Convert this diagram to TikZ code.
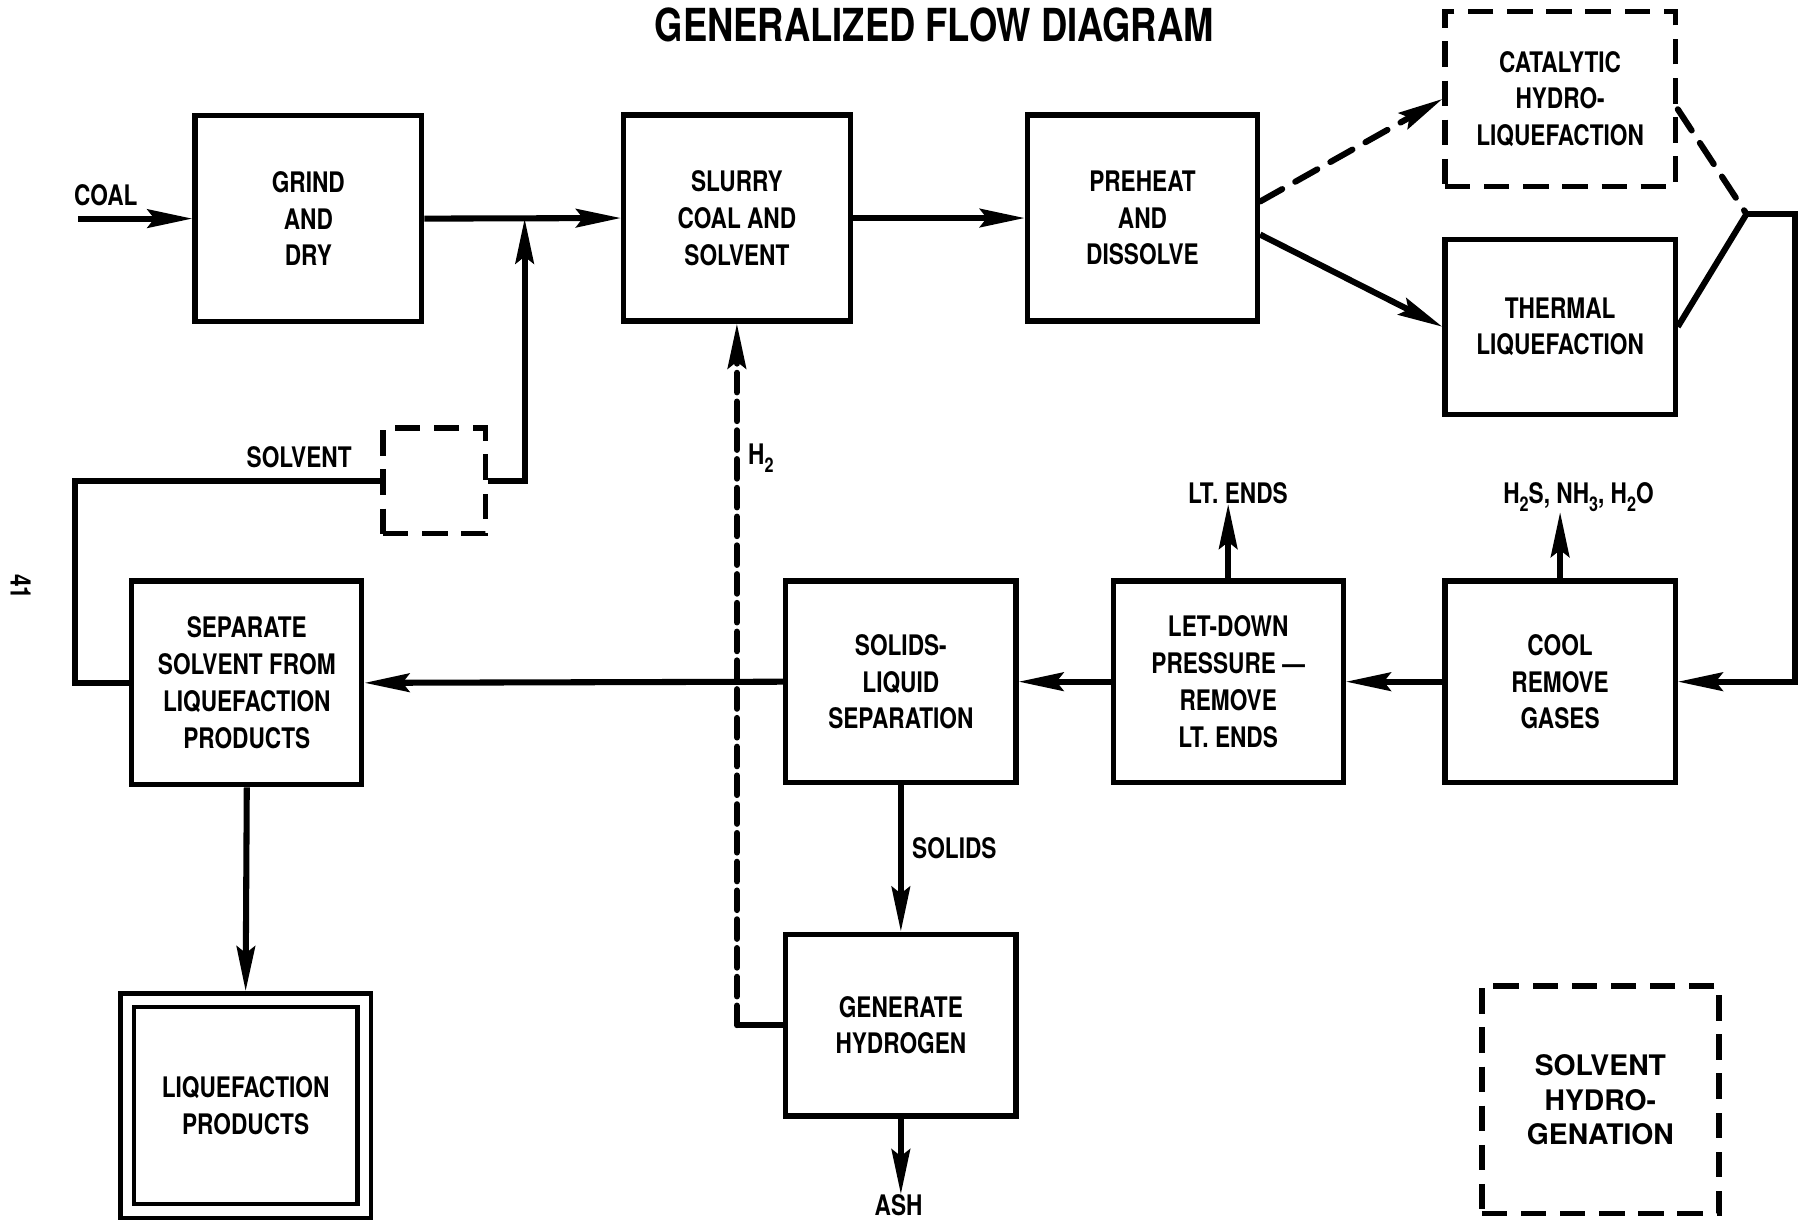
\documentclass[tikz,border=0pt]{standalone}
\usepackage{fontspec}
\setmainfont{TeX Gyre Heros}[FakeStretch=0.8]
\newfontfamily\widesans{TeX Gyre Heros}
\usetikzlibrary{arrows.meta,positioning}
\newcommand\chemsub[1]{\raisebox{-0.55ex}{\fontsize{10}{10}\selectfont #1}}

\begin{document}
\begin{tikzpicture}[>={Stealth[length=0.78cm,width=0.32cm,inset=0.12cm]},
  stage/.style={draw,line width=2.6pt,minimum width=4cm,minimum height=3.5cm,align=center,font=\bfseries\fontsize{14}{18.2}\selectfont,inner sep=2pt},
  option/.style={stage,dash pattern=on 0.44cm off 0.24cm},
  flow/.style={line width=3pt},
  stream/.style={font=\bfseries\fontsize{14}{17}\selectfont,inner sep=0pt}]
\path[use as bounding box,fill=white] (0,0) rectangle (31.36,-21.26);

% title
\node[font=\bfseries\fontsize{22.5}{24}\selectfont] (title) at (16.24,-0.44) {GENERALIZED FLOW DIAGRAM};

% process stages
\node[stage,minimum width=3.94cm,minimum height=3.58cm] (grind) at (5.36,-3.80) {GRIND\\AND\\DRY};
\node[stage,minimum width=3.94cm,minimum height=3.58cm] (slurry) at (12.81,-3.79) {SLURRY\\COAL AND\\SOLVENT};
\node[stage,minimum height=3.58cm] (preheat) at (19.86,-3.79) {PREHEAT\\AND\\DISSOLVE};
\node[option,minimum height=3.04cm] (catalytic) at (27.12,-1.72) {CATALYTIC\\HYDRO-\\LIQUEFACTION};
\node[stage,minimum height=3.04cm] (thermal) at (27.12,-5.68) {THERMAL\\LIQUEFACTION};
\node[stage] (cool) at (27.12,-11.85) {COOL\\REMOVE\\GASES};
\node[stage] (letdown) at (21.35,-11.85) {LET-DOWN\\PRESSURE ---\\REMOVE\\LT. ENDS};
\node[stage] (solids) at (15.66,-11.85) {SOLIDS-\\LIQUID\\SEPARATION};
\node[stage,minimum height=3.54cm] (separate) at (4.29,-11.87) {SEPARATE\\SOLVENT FROM\\LIQUEFACTION\\PRODUCTS};
\node[stage,minimum height=3.16cm] (hydrogen) at (15.66,-17.82) {GENERATE\\HYDROGEN};
\node[stage,line width=2.2pt,double,double distance=0.16cm,minimum width=4.12cm,minimum height=3.66cm,outer sep=0.16cm] (products) at (4.27,-19.22) {LIQUEFACTION\\PRODUCTS};
\node[option,font=\widesans\bfseries\fontsize{14}{17}\selectfont,minimum width=4.12cm,minimum height=3.96cm] (solvhyd) at (27.82,-19.12) {SOLVENT\\HYDRO-\\GENATION};
\node[option,minimum width=1.78cm,minimum height=1.84cm] (hydbox) at (7.55,-8.36) {};

% stream labels
\node[stream] (coal) at (1.84,-3.40) {COAL};
\node[stream] (solventlbl) at (5.20,-7.94) {SOLVENT};
\node[stream,anchor=west] (h2lbl) at (13.0,-7.96) {H\chemsub{2}};
\node[stream,anchor=south] (ltends) at (21.52,-8.76) {LT. ENDS};
\node[stream,anchor=south] (gases) at (27.44,-8.90) {H\chemsub{2}S, NH\chemsub{3}, H\chemsub{2}O};
\node[stream,anchor=west] (solidslbl) at (15.85,-14.74) {SOLIDS};
\node[stream,anchor=north] (ash) at (15.62,-20.76) {ASH};
\node[stream,rotate=-90] (page) at (0.36,-10.2) {41};

% coal and solvent feed
\coordinate (coalin) at (1.36,-3.80);
\coordinate (mix) at (9.12,-3.80);
\draw[flow,->] (coalin) -- (grind.west);
\draw[flow,->] (grind.east) -- (slurry.west);
\draw[flow] (separate.west) -- ++(-0.94,0) |- (hydbox.west);
\draw[flow,->] (hydbox.east) -| (mix);
\draw[flow,->] (slurry.east) -- (preheat.west);

% liquefaction branches
\coordinate (merge) at (30.36,-3.72);
\draw[flow,->,line cap=round,dash pattern=on 0.44cm off 0.26cm] (preheat.8) -- (catalytic.west);
\draw[flow,->] (preheat.-8) -- (thermal.west);
\draw[flow,line cap=round,dash pattern=on 0.44cm off 0.26cm] (catalytic.-5) -- (merge);
\draw[flow] (thermal.east) -- (merge);
\draw[flow,->] (merge) -- ++(0.84,0) |- (cool.east);

% product train
\draw[flow,->] (cool.north) -- (cool.north |- gases.south);
\draw[flow,->] (cool.west) -- (letdown.east);
\draw[flow,->] (letdown.north) -- (letdown.north |- ltends.south);
\draw[flow,->] (letdown.west) -- (solids.east);
\draw[flow,->] (solids.west) -- (separate.east);
\draw[flow,->] (separate.south) -- (products.north);
\draw[flow,->] (solids.south) -- (hydrogen.north);
\draw[flow,->] (hydrogen.south) -- (hydrogen.south |- ash.north);

% hydrogen return
\draw[flow] (hydrogen.west) -- (hydrogen.west -| slurry.south) coordinate (h2turn);
\draw[flow,->,line cap=round,dash pattern=on 0.34cm off 0.16cm] (h2turn) -- (slurry.south);
\end{tikzpicture}
\end{document}
